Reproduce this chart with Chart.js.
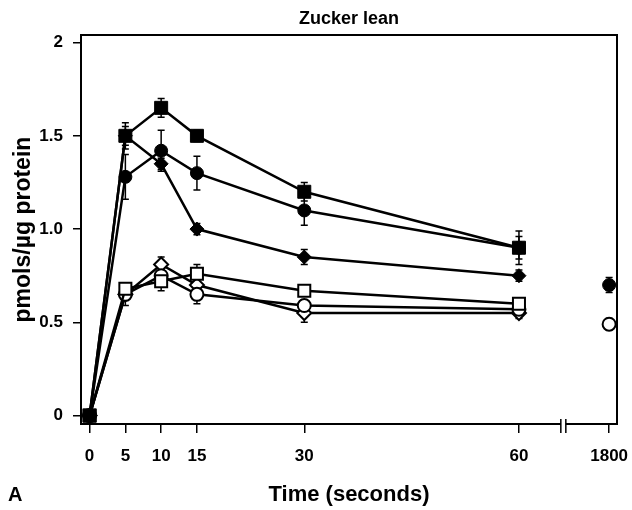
<!DOCTYPE html>
<html>
<head>
<meta charset="utf-8">
<script src="https://cdn.jsdelivr.net/npm/chart.js@4.4.0/dist/chart.umd.min.js"></script>
<style>
  html, body { margin: 0; padding: 0; background: #fff; }
  canvas { display: block; }
</style>
</head>
<body>
<canvas id="chart" width="632" height="510"></canvas>
<script>
// sampling times (s) and axis labels
const times = [0, 5, 10, 15, 30, 60, 1800];
const xTickLabels = ['0', '5', '10', '15', '30', '60', '1800'];
const yTickValues = [0, 0.5, 1, 1.5, 2];
const yTickLabels = ['0', '0.5', '1.0', '1.5', '2'];

// series (pmols/ug protein) and their error bars
const filledSquare = [0, 1.50, 1.65, 1.50, 1.20, 0.90, null];
const filledSquareErr = [0, 0.07, 0.05, 0.03, 0.05, 0.09, null];
const filledCircle = [0, 1.28, 1.42, 1.30, 1.10, 0.90, 0.70];
const filledCircleErr = [0, 0.12, 0.11, 0.09, 0.08, 0.06, 0.04];
const filledDiamond = [0, 1.50, 1.35, 1.00, 0.85, 0.75, null];
const filledDiamondErr = [0, 0.05, 0.03, 0.03, 0.04, 0.03, null];
const openSquare = [0, 0.68, 0.72, 0.76, 0.67, 0.60, null];
const openSquareErr = [0, 0.03, 0.05, 0.05, 0.03, 0.03, null];
const openCircle = [0, 0.65, 0.75, 0.65, 0.59, 0.57, 0.49];
const openCircleErr = [0, 0.06, 0.05, 0.05, 0.03, 0.03, 0.03];
const openDiamond = [0, 0.65, 0.81, 0.70, 0.55, 0.55, null];
const openDiamondErr = [0, 0.03, 0.04, 0.05, 0.05, 0.03, null];

// broken time axis: 0-60 s is linear, 1800 s sits past the break
const BREAK_POS = 66.2;
const LATE_POS = 72.6;
function axisPos(t) { return t <= 60 ? t : LATE_POS; }

const FONT = '"Liberation Sans", Arial, sans-serif';

function series(label, vals, errs, style, radius, filled) {
    return {
        label,
        data: times.map((t, i) => ({ x: axisPos(t), y: vals[i] })),
        errors: errs,
        borderColor: '#000',
        borderWidth: 2.5,
        pointStyle: style,
        pointRadius: radius,
        pointHoverRadius: radius,
        pointBorderWidth: filled ? 1 : 2,
        pointBackgroundColor: filled ? '#000' : '#fff',
        pointBorderColor: '#000',
        segment: { borderColor: c => times[c.p1DataIndex] > 60 ? 'rgba(0,0,0,0)' : '#000' },
        tension: 0,
        clip: false
    };
}

const errorBars = {
    id: 'errorBars',
    beforeDatasetsDraw(chart) {
        const { ctx, scales: { x, y } } = chart;
        ctx.save();
        ctx.strokeStyle = '#000';
        ctx.lineWidth = 1.5;
        chart.data.datasets.forEach(ds => {
            ds.data.forEach((p, i) => {
                const e = ds.errors[i];
                if (p.y == null || !e) return;
                const px = x.getPixelForValue(p.x);
                const top = y.getPixelForValue(p.y + e);
                const bot = y.getPixelForValue(p.y - e);
                ctx.beginPath();
                ctx.moveTo(px, top); ctx.lineTo(px, bot);
                ctx.moveTo(px - 3.5, top); ctx.lineTo(px + 3.5, top);
                ctx.moveTo(px - 3.5, bot); ctx.lineTo(px + 3.5, bot);
                ctx.stroke();
            });
        });
        ctx.restore();
    }
};

const frame = {
    id: 'frame',
    beforeDatasetsDraw(chart) {
        const { ctx, chartArea: a, scales: { x } } = chart;
        const g = x.getPixelForValue(BREAK_POS);
        ctx.save();
        ctx.strokeStyle = '#000';
        ctx.lineWidth = 2;
        ctx.beginPath();
        ctx.moveTo(g - 2.5, a.bottom);
        ctx.lineTo(a.left, a.bottom);
        ctx.lineTo(a.left, a.top);
        ctx.lineTo(a.right, a.top);
        ctx.lineTo(a.right, a.bottom);
        ctx.lineTo(g + 2.5, a.bottom);
        ctx.stroke();
        ctx.lineWidth = 1.5;
        ctx.beginPath();
        ctx.moveTo(g - 2.5, a.bottom - 5); ctx.lineTo(g - 2.5, a.bottom + 9);
        ctx.moveTo(g + 2.5, a.bottom - 5); ctx.lineTo(g + 2.5, a.bottom + 9);
        ctx.stroke();
        ctx.fillStyle = '#000';
        ctx.font = 'bold 20px ' + FONT;
        ctx.textBaseline = 'middle';
        ctx.fillText('A', 8, 495);
        ctx.restore();
    }
};

const tickFont = { family: FONT, size: 17, weight: 'bold' };

new Chart(document.getElementById('chart'), {
    type: 'line',
    data: {
        datasets: [
            series('filled square', filledSquare, filledSquareErr, 'rect', 9.2, true),
            series('filled circle', filledCircle, filledCircleErr, 'circle', 6.5, true),
            series('filled diamond', filledDiamond, filledDiamondErr, 'rectRot', 7, true),
            series('open square', openSquare, openSquareErr, 'rect', 8.5, false),
            series('open circle', openCircle, openCircleErr, 'circle', 6.5, false),
            series('open diamond', openDiamond, openDiamondErr, 'rectRot', 7, false)
        ]
    },
    options: {
        responsive: false,
        animation: false,
        devicePixelRatio: 1,
        layout: { padding: { top: 0, right: 15, bottom: 0, left: 0 } },
        plugins: {
            legend: { display: false },
            tooltip: { enabled: false },
            title: {
                display: true,
                fullSize: false,
                text: 'Zucker lean',
                color: '#000',
                font: { family: FONT, size: 18, weight: 'bold' },
                padding: { top: 8, bottom: 5.5 }
            }
        },
        scales: {
            x: {
                type: 'linear',
                min: -1.2,
                max: 73.7,
                border: { display: false },
                grid: { drawOnChartArea: false, tickLength: 9, tickColor: '#000', lineWidth: 1.5 },
                afterBuildTicks: s => { s.ticks = times.map(t => ({ value: axisPos(t) })); },
                ticks: {
                    autoSkip: false,
                    maxRotation: 0,
                    color: '#000',
                    font: tickFont,
                    padding: 13,
                    callback: (v, i) => xTickLabels[i]
                },
                title: {
                    display: true,
                    text: 'Time (seconds)',
                    color: '#000',
                    font: { family: FONT, size: 22, weight: 'bold' },
                    padding: { top: 4, bottom: 2 }
                },
                afterFit: s => { s.height = 86; s.paddingLeft = 0; s.paddingRight = 0; }
            },
            y: {
                min: -0.045,
                max: 2.04,
                border: { display: false },
                grid: { drawOnChartArea: false, tickLength: 8, tickColor: '#000', lineWidth: 1.5 },
                afterBuildTicks: s => { s.ticks = yTickValues.map(v => ({ value: v })); },
                ticks: {
                    color: '#000',
                    font: tickFont,
                    padding: 10,
                    callback: (v, i) => yTickLabels[i]
                },
                title: {
                    display: true,
                    text: 'pmols/µg protein',
                    color: '#000',
                    font: { family: FONT, size: 23, weight: 'bold' },
                    padding: { top: 10, bottom: 0 }
                },
                afterFit: s => { s.width = 81; s.paddingTop = 0; s.paddingBottom = 0; }
            }
        }
    },
    plugins: [frame, errorBars]
});
</script>
</body>
</html>
